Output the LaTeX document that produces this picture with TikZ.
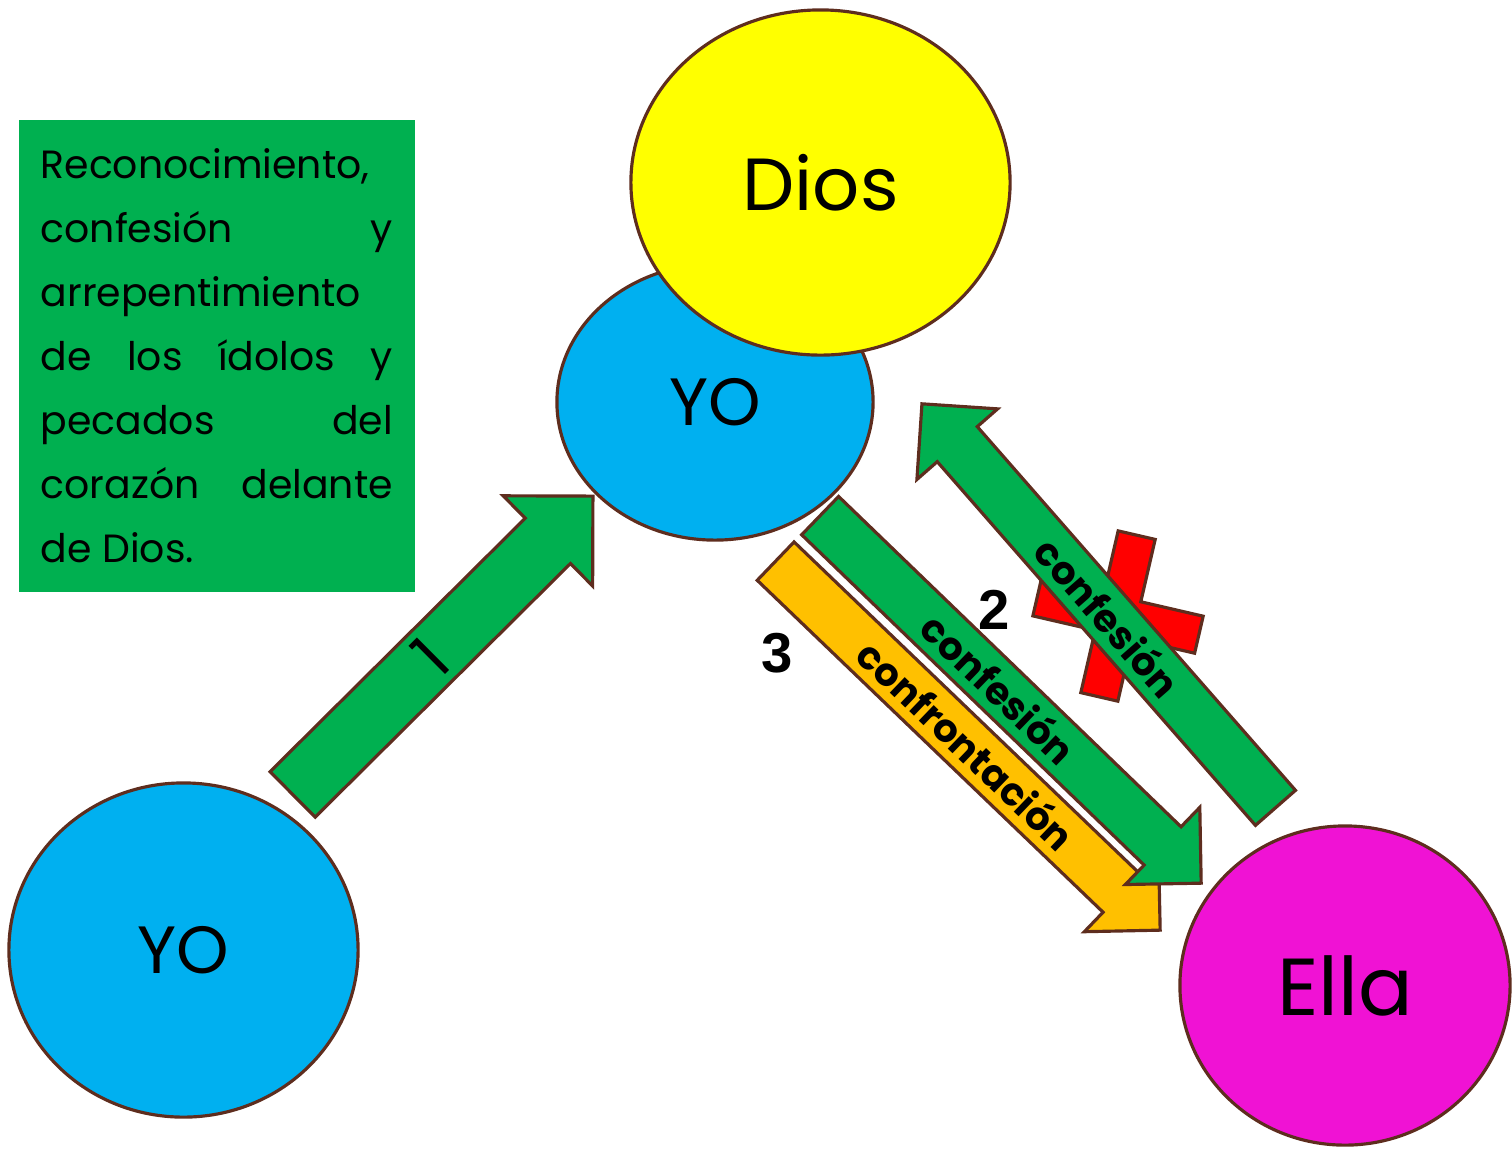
\documentclass[tikz,border=0pt]{standalone}
\usepackage{fontspec}
\setmainfont{Poppins}
\newfontfamily\numfont{Liberation Sans}
\usetikzlibrary{shapes.geometric,shapes.arrows,calc}

\definecolor{edge}{RGB}{94,45,30}
\definecolor{sky}{RGB}{0,176,240}
\definecolor{lemon}{RGB}{255,255,0}
\definecolor{pink}{RGB}{240,18,212}
\definecolor{leaf}{RGB}{0,176,80}
\definecolor{amber}{RGB}{255,192,0}

\newcommand\blockarrow[6][]{%
  \path let \p1=($(#3)-(#2)$), \n1={atan2(\y1,\x1)}, \n2={veclen(\x1,\y1)} in
    node[fatarrow,#1,rotate=\n1,minimum height=\n2,anchor=tail] at (#2) {}
    node[rotate=\n1,#5] at ($(#2)!#4!(#3)$) {#6};}

\begin{document}
\begin{tikzpicture}[x=0.01cm,y=-0.01cm,
  bubble/.style={ellipse,draw=edge,line width=0.9pt,inner sep=0pt},
  fatarrow/.style={single arrow,draw=edge,line width=0.9pt,fill=leaf,
    single arrow tip angle=90,single arrow head indent=0pt,
    inner xsep=0pt,inner ysep=0.25cm,single arrow head extend=0.27cm},
  bigarrow/.style={inner ysep=0.304cm,single arrow head extend=0.315cm},
  tag/.style={inner sep=0pt,font=\bfseries\fontsize{11}{13}\selectfont},
  num/.style={inner sep=0pt,font=\numfont\bfseries\fontsize{16}{19}\selectfont}]
\useasboundingbox (0,0) rectangle (1512,1153);

\node[bubble,fill=sky,minimum width=3.49cm,minimum height=3.34cm,font=\fontsize{19}{23}\selectfont] (yo) at (183.5,950) {YO};
\node[bubble,fill=sky,minimum width=3.16cm,minimum height=2.76cm,font=\fontsize{19}{23}\selectfont] (yo2) at (715,402) {YO};
\node[bubble,fill=lemon,minimum width=3.79cm,minimum height=3.45cm,font=\fontsize{21}{25}\selectfont] (dios) at (820.5,182.5) {Dios};
\node[bubble,fill=pink,minimum width=3.30cm,minimum height=3.19cm,font=\fontsize{23}{27}\selectfont] (ella) at (1345,985.5) {Ella};

\node[fill=leaf,anchor=north west,text width=3.52cm,inner xsep=0.22cm,minimum height=4.72cm,align=justify,
  font=\fontsize{11.2}{18.2}\selectfont] (txt) at (18,119)
  {Reconocimiento,\linebreak confesión y\linebreak arrepentimiento\linebreak de los ídolos y\linebreak pecados del\linebreak corazón delante\linebreak de Dios.};

\draw[fill=red,draw=edge,line width=0.9pt,shift={(1118,616)},rotate=-13]
  (19,83) -- (19,19) -- (83,19) -- (83,-19) -- (19,-19) -- (19,-83) -- (-19,-83)
  -- (-19,-19) -- (-83,-19) -- (-83,19) -- (-19,19) -- (-19,83) -- cycle;

\coordinate (uno0) at (291.5,795.5);
\coordinate (uno1) at (592,497);
\coordinate (cont0) at (774.5,560);
\coordinate (cont1) at (1159,929);
\coordinate (conf0) at (819,514.5);
\coordinate (conf1) at (1200,882);
\coordinate (back0) at (1276.5,809);
\coordinate (back1) at (923,405);

\blockarrow[fill=amber]{cont0}{cont1}{0.5}{tag}{confrontación}
\blockarrow{conf0}{conf1}{0.473}{tag}{confesión}
\blockarrow{back0}{back1}{0.476}{tag,rotate=180}{confesión}
\blockarrow[bigarrow]{uno0}{uno1}{0.462}{inner sep=0pt,font=\fontsize{18}{22}\selectfont}{1}

\node[num] (n2) at (994,610) {2};
\node[num] (n3) at (777,653) {3};
\end{tikzpicture}
\end{document}
